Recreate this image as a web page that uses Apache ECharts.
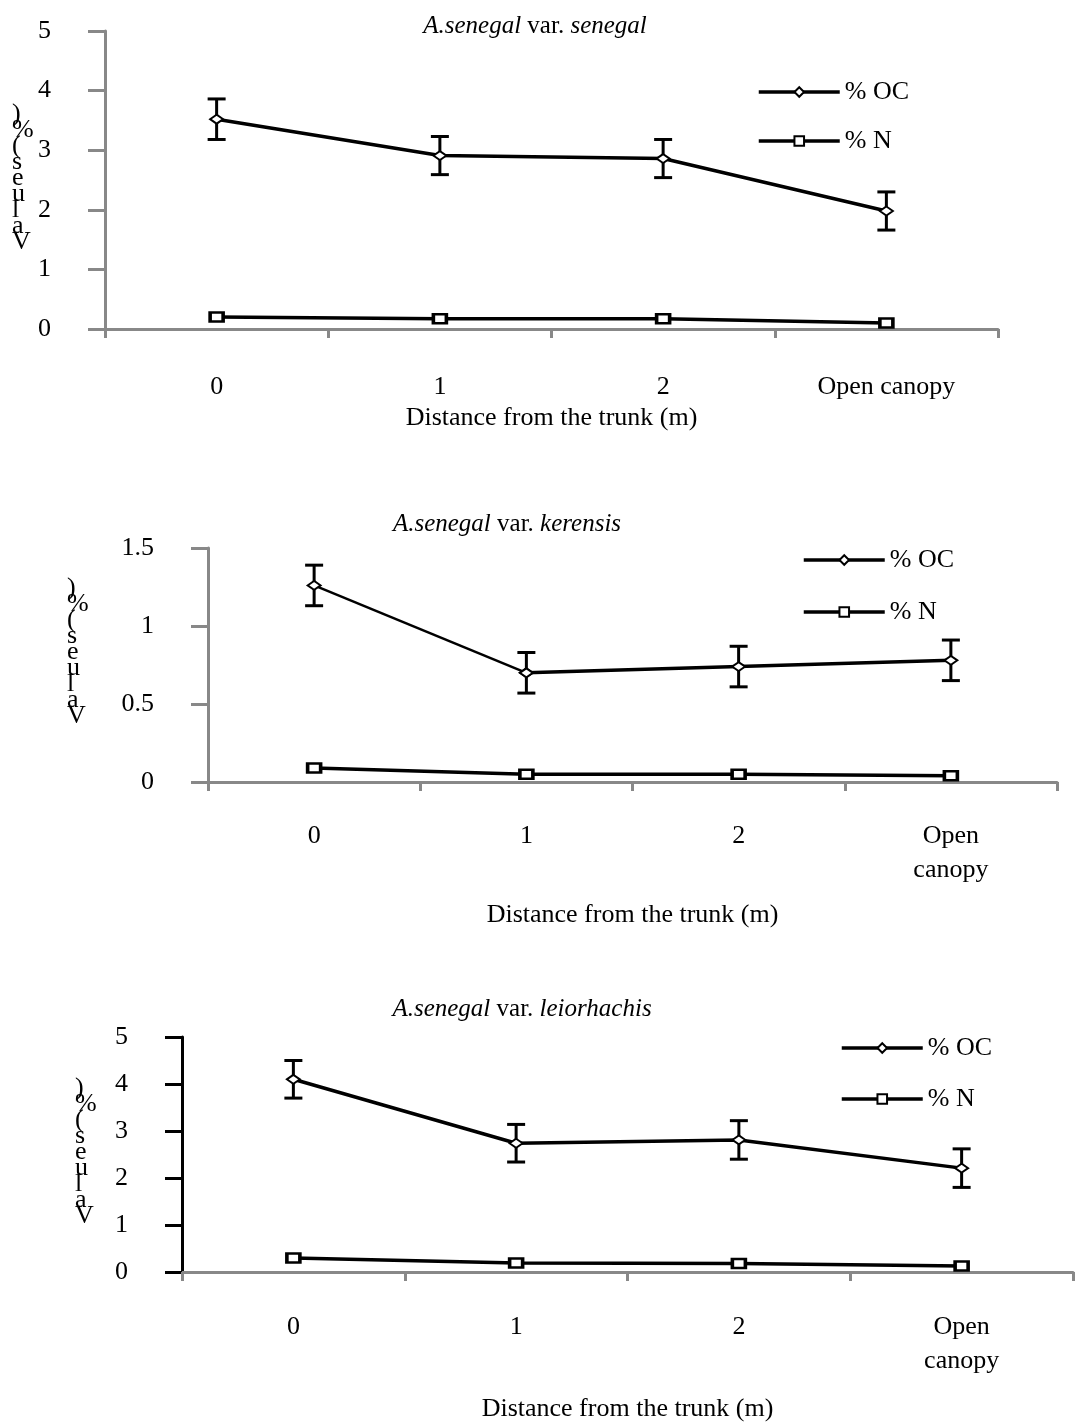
<!DOCTYPE html>
<html><head><meta charset="utf-8">
<script src="https://cdn.jsdelivr.net/npm/echarts@6/dist/echarts.min.js"></script>
<style>html,body{margin:0;padding:0;background:#fff}#c{width:1075px;height:1425px}</style>
</head><body><div id="c"></div>
<script>
const categories = ['0', '1', '2', 'Open canopy'];
const seriesNames = ['% OC', '% N'];
const xTitle = 'Distance from the trunk (m)';
const yTitleChars = [')', '%', '(', 's', 'e', 'u', 'l', 'a', 'V'];

const senegalOC = [3.52, 2.91, 2.86, 1.98];
const senegalOCErr = [0.34, 0.32, 0.32, 0.32];
const senegalN = [0.20, 0.17, 0.17, 0.10];

const kerensisOC = [1.26, 0.70, 0.74, 0.78];
const kerensisOCErr = [0.13, 0.13, 0.13, 0.13];
const kerensisN = [0.09, 0.05, 0.05, 0.04];

const leiorOC = [4.10, 2.74, 2.81, 2.21];
const leiorOCErr = [0.40, 0.40, 0.41, 0.41];
const leiorN = [0.30, 0.19, 0.18, 0.13];

const yTicks1 = {min: 0, max: 5, interval: 1};
const yTicks2 = {min: 0, max: 1.5, interval: 0.5};
const yTicks3 = {min: 0, max: 5, interval: 1};

const FONT = 'Liberation Serif';
const GRAY = '#888888';

const panels = [
  {name: 'senegal', oc: senegalOC, err: senegalOCErr, n: senegalN, y: yTicks1,
   grid: {left: 105, right: 77, top: 31, height: 298},
   yAxisColor: GRAY, wrap: false, labelMargin: 41, nameGap: 76, thinFirst: false,
   title: {x: 530, y: 9, var: 'senegal'},
   legend: {left: 752, top: 74, gap: 23},
   ylab: {x: 22, y: 101}},
  {name: 'kerensis', oc: kerensisOC, err: kerensisOCErr, n: kerensisN, y: yTicks2,
   grid: {left: 208, right: 18, top: 548, height: 234},
   yAxisColor: GRAY, wrap: true, labelMargin: 37, nameGap: 120, thinFirst: true,
   title: {x: 502, y: 507, var: 'kerensis'},
   legend: {left: 797, top: 542, gap: 26},
   ylab: {x: 77, y: 575}},
  {name: 'leiorhachis', oc: leiorOC, err: leiorOCErr, n: leiorN, y: yTicks3,
   grid: {left: 182, right: 2, top: 1037, height: 235},
   yAxisColor: '#000', wrap: true, labelMargin: 38, nameGap: 124, thinFirst: false,
   title: {x: 517, y: 992, var: 'leiorhachis'},
   legend: {left: 835, top: 1030, gap: 25},
   ylab: {x: 85, y: 1075}}
];

const grids = [], xAxes = [], yAxes = [], series = [], titles = [], legends = [], graphics = [];

panels.forEach((p, i) => {
  grids.push(Object.assign({containLabel: false}, p.grid));
  xAxes.push({
    type: 'category', gridIndex: i, data: categories, boundaryGap: true,
    axisLine: {lineStyle: {color: GRAY, width: 3}},
    axisTick: {show: true, length: 9, lineStyle: {color: GRAY, width: 3}, alignWithLabel: false},
    axisLabel: {
      color: '#000', fontFamily: FONT, fontSize: 26, margin: p.labelMargin, lineHeight: 34,
      interval: 0,
      formatter: v => p.wrap ? v.replace(' ', '\n') : v
    },
    name: xTitle, nameLocation: 'middle', nameGap: p.nameGap,
    nameTextStyle: {color: '#000', fontFamily: FONT, fontSize: 26}
  });
  yAxes.push({
    type: 'value', gridIndex: i, min: p.y.min, max: p.y.max, interval: p.y.interval,
    axisLine: {show: true, lineStyle: {color: p.yAxisColor, width: 3}},
    axisTick: {show: true, length: 17, lineStyle: {color: p.yAxisColor, width: 3}},
    axisLabel: {color: '#000', fontFamily: FONT, fontSize: 26, margin: 54},
    splitLine: {show: false}
  });
  const errData = p.oc.map((v, k) => [k, v, p.err[k]]);
  series.push({
    type: 'custom', xAxisIndex: i, yAxisIndex: i, z: 1, silent: true,
    data: errData, encode: {x: 0, y: 1},
    renderItem: (params, api) => {
      const x = api.value(0), v = api.value(1), e = api.value(2);
      const top = api.coord([x, v + e]);
      const bot = api.coord([x, v - e]);
      const hw = 9;
      const st = {stroke: '#000', lineWidth: 3};
      return {type: 'group', children: [
        {type: 'line', shape: {x1: top[0], y1: top[1], x2: bot[0], y2: bot[1]}, style: st},
        {type: 'line', shape: {x1: top[0] - hw, y1: top[1], x2: top[0] + hw, y2: top[1]}, style: st},
        {type: 'line', shape: {x1: bot[0] - hw, y1: bot[1], x2: bot[0] + hw, y2: bot[1]}, style: st}
      ]};
    }
  });
  const ocStyle = {
    symbol: 'diamond', symbolSize: [13, 9], showAllSymbol: true,
    itemStyle: {color: '#fff', borderColor: '#000', borderWidth: 2}, animation: false
  };
  if (p.thinFirst) {
    series.push(Object.assign({
      name: seriesNames[0], type: 'line', xAxisIndex: i, yAxisIndex: i, z: 3,
      data: p.oc.map((v, k) => k === 0 ? null : v), connectNulls: false,
      lineStyle: {color: '#000', width: 3.5}
    }, ocStyle));
    series.push(Object.assign({
      name: seriesNames[0], type: 'line', xAxisIndex: i, yAxisIndex: i, z: 3,
      data: p.oc.map((v, k) => k <= 1 ? v : null), connectNulls: false,
      lineStyle: {color: '#000', width: 2.5}
    }, ocStyle));
  } else {
    series.push(Object.assign({
      name: seriesNames[0], type: 'line', xAxisIndex: i, yAxisIndex: i, z: 3,
      data: p.oc, lineStyle: {color: '#000', width: 3.5}
    }, ocStyle));
  }
  series.push({
    name: seriesNames[1], type: 'line', xAxisIndex: i, yAxisIndex: i, z: 3,
    data: p.n, symbol: 'rect', symbolSize: [13, 9], showAllSymbol: true,
    lineStyle: {color: '#000', width: 3.5},
    itemStyle: {color: '#fff', borderColor: '#000', borderWidth: 3},
    animation: false
  });
  titles.push({
    text: '{i|A.senegal} var. {i|' + p.title.var + '}',
    left: p.title.x, top: p.title.y, textAlign: 'center',
    textStyle: {
      color: '#000', fontFamily: FONT, fontSize: 25, fontWeight: 'normal',
      rich: {i: {fontStyle: 'italic', fontFamily: FONT, fontSize: 25, color: '#000'}}
    }
  });
  legends.push({
    data: seriesNames, orient: 'vertical', left: p.legend.left, top: p.legend.top,
    itemWidth: 81, itemHeight: 12, itemGap: p.legend.gap,
    lineStyle: {color: '#000', width: 3.5},
    textStyle: {color: '#000', fontFamily: FONT, fontSize: 26},
    selectedMode: false
  });
  graphics.push({
    type: 'text', left: p.ylab.x - 10, top: p.ylab.y, silent: true,
    style: {
      text: yTitleChars.join('\n'), fill: '#000', font: '26px "' + FONT + '"',
      lineHeight: 16, align: 'center'
    }
  });
});

const chart = echarts.init(document.getElementById('c'), null, {renderer: 'canvas'});
chart.setOption({
  backgroundColor: '#fff',
  animation: false,
  title: titles,
  legend: legends,
  grid: grids,
  xAxis: xAxes,
  yAxis: yAxes,
  series: series,
  graphic: graphics
});
</script></body></html>
